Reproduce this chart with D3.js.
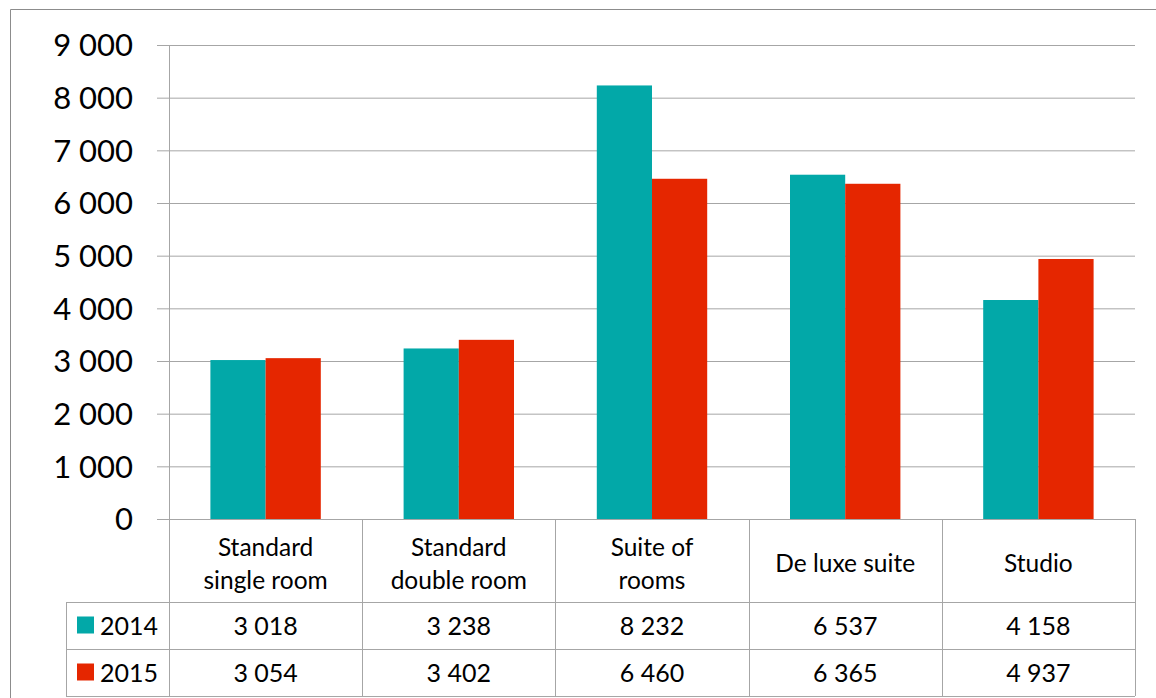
<!DOCTYPE html>
<html>
<head>
<meta charset="utf-8">
<script src="https://cdn.jsdelivr.net/npm/d3@7"></script>
<style>
  html, body { margin: 0; padding: 0; background: #fff; }
  svg { display: block; font-family: Lato, "Open Sans", sans-serif; }
</style>
</head>
<body>
<svg id="chart" width="1156" height="698"></svg>
<script>
// Room categories (each label split into lines as shown under the axis)
const categories = ["Standard single room", "Standard double room", "Suite of rooms", "De luxe suite", "Studio"];
const categoryLines = [["Standard", "single room"], ["Standard", "double room"], ["Suite of", "rooms"], ["De luxe suite"], ["Studio"]];
const seriesNames = ["2014", "2015"];
const values2014 = [3018, 3238, 8232, 6537, 4158];
const values2015 = [3054, 3402, 6460, 6365, 4937];
const yTicks = [0, 1000, 2000, 3000, 4000, 5000, 6000, 7000, 8000, 9000];
const colors = ["#02A8A8", "#E52600"];

const seriesValues = [values2014, values2015];
const fmt = v => d3.format(",")(v).replace(/,/g, " ");

const svg = d3.select("#chart");
const plot = { left: 169, right: 1135, top: 45, bottom: 519 };
const table = { left: 66, headerBottom: 602, row1Bottom: 649, row2Bottom: 696 };
const grid = "#a6a6a6";

// Outer chart frame
svg.append("path")
  .attr("d", "M10.5,698 L10.5,9.5 L1156,9.5")
  .attr("fill", "none").attr("stroke", "#8c8c8c").attr("stroke-width", 1);

const x0 = d3.scaleBand().domain(categories).range([plot.left, plot.right]).padding(0);
const x1 = d3.scaleBand().domain(seriesNames).range([0, x0.bandwidth()])
  .paddingInner(0).paddingOuter(0.75);
const y = d3.scaleLinear().domain([0, 9000]).range([plot.bottom, plot.top]);

// Gridlines with outward tick marks
const yAxis = d3.axisLeft(y).tickValues(yTicks)
  .tickSize(-(plot.right - plot.left)).tickSizeOuter(0).tickFormat(fmt).tickPadding(36);
const gy = svg.append("g").attr("transform", `translate(${plot.left},0)`).call(yAxis);
gy.select(".domain").remove();
gy.selectAll(".tick line").attr("stroke", grid).attr("x1", -12);
gy.selectAll(".tick text")
  .attr("font-size", 31).attr("fill", "#000").attr("dy", "0.35em")
  .attr("font-family", "Lato, 'Open Sans', sans-serif");

// Bars
categories.forEach((c, i) => {
  seriesNames.forEach((s, j) => {
    const v = seriesValues[j][i];
    svg.append("rect")
      .attr("x", x0(c) + x1(s))
      .attr("y", y(v))
      .attr("width", x1.bandwidth())
      .attr("height", y(0) - y(v))
      .attr("fill", colors[j]);
  });
});

// Vertical axis line, running down through the header row
svg.append("line")
  .attr("x1", plot.left + 0.5).attr("x2", plot.left + 0.5)
  .attr("y1", plot.top).attr("y2", table.row2Bottom)
  .attr("stroke", grid);

// Data table lines
const tl = svg.append("g").attr("stroke", grid).attr("fill", "none");
tl.append("line").attr("x1", plot.left).attr("x2", plot.right)
  .attr("y1", plot.bottom + 0.5).attr("y2", plot.bottom + 0.5);
[table.headerBottom, table.row1Bottom, table.row2Bottom].forEach(yy => {
  tl.append("line").attr("x1", table.left).attr("x2", plot.right)
    .attr("y1", yy + 0.5).attr("y2", yy + 0.5);
});
tl.append("line").attr("x1", table.left + 0.5).attr("x2", table.left + 0.5)
  .attr("y1", table.headerBottom).attr("y2", table.row2Bottom);
categories.forEach(c => {
  const xr = x0(c) + x0.bandwidth();
  tl.append("line").attr("x1", Math.round(xr) + 0.5).attr("x2", Math.round(xr) + 0.5)
    .attr("y1", plot.bottom).attr("y2", table.row2Bottom);
});

// Category labels
categories.forEach((c, i) => {
  const cx = x0(c) + x0.bandwidth() / 2;
  const lines = categoryLines[i];
  const mid = (plot.bottom + table.headerBottom) / 2 + 3;
  const lh = 33;
  lines.forEach((ln, k) => {
    svg.append("text")
      .attr("x", cx)
      .attr("y", mid + (k - (lines.length - 1) / 2) * lh)
      .attr("dy", "0.35em")
      .attr("text-anchor", "middle")
      .attr("font-size", 24.5)
      .text(ln);
  });
});

// Table rows: legend key + values
const rowMids = [(table.headerBottom + table.row1Bottom) / 2 + 1, (table.row1Bottom + table.row2Bottom) / 2 + 1];
seriesNames.forEach((s, j) => {
  const ym = rowMids[j];
  svg.append("rect").attr("x", 77).attr("y", ym - 10).attr("width", 17).attr("height", 17)
    .attr("fill", colors[j]);
  svg.append("text").attr("x", 100).attr("y", ym).attr("dy", "0.35em")
    .attr("font-size", 25).text(s);
  categories.forEach((c, i) => {
    svg.append("text")
      .attr("x", x0(c) + x0.bandwidth() / 2)
      .attr("y", ym).attr("dy", "0.35em")
      .attr("text-anchor", "middle")
      .attr("font-size", 25)
      .text(fmt(seriesValues[j][i]));
  });
});
</script>
</body>
</html>
